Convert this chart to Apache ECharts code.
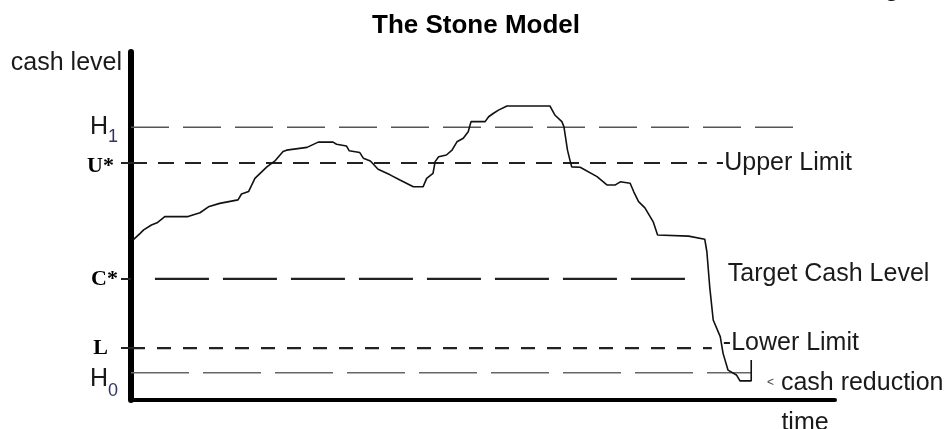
<!DOCTYPE html>
<html>
<head>
<meta charset="utf-8">
<title>The Stone Model</title>
<script src="https://cdn.jsdelivr.net/npm/echarts@6/dist/echarts.min.js"></script>
<style>
  html, body { margin: 0; padding: 0; background: #fff; }
  #main { width: 948px; height: 429px; }
</style>
</head>
<body>
<div id="main"></div>
<script>
// cash balance path (time and cash level both on a 0-100 scale)
var cashTime = [0.3, 1.3, 1.8, 2.9, 3.7, 4.8, 8.1, 9.8, 11.0, 12.6,
  15.2, 15.7, 16.7, 17.6, 19.3, 20.5, 21.6, 22.1, 25.0, 26.6,
  28.7, 29.2, 30.6, 31.0, 32.5, 33.0, 34.0, 35.1, 36.8, 38.2,
  40.1, 41.5, 42.0, 42.9, 43.2, 43.7, 44.8, 45.6, 46.3, 47.2,
  47.9, 48.3, 50.3, 50.8, 51.5, 52.2, 53.4, 59.5, 60.2, 61.2,
  61.5, 62.0, 62.4, 62.6, 63.8, 66.2, 67.6, 68.8, 69.5, 70.9,
  71.4, 72.1, 73.0, 74.2, 74.8, 79.2, 81.5, 81.8, 82.0, 82.2,
  82.7, 83.7, 84.1, 84.8, 86.0, 86.5, 88.1, 88.1];
var cashLevel = [46.0, 47.9, 48.9, 50.3, 50.9, 52.7, 52.7, 53.8, 55.5, 56.5,
  57.5, 59.2, 59.9, 63.7, 67.0, 68.8, 71.4, 71.8, 72.6, 74.1,
  74.1, 73.5, 73.0, 71.6, 71.1, 69.5, 68.7, 66.3, 64.7, 63.2,
  61.3, 61.3, 63.7, 65.1, 68.5, 69.9, 70.4, 71.8, 74.2, 75.2,
  77.1, 80.0, 80.0, 81.4, 82.4, 83.3, 84.5, 84.5, 81.9, 80.0,
  78.5, 71.8, 68.5, 67.0, 66.9, 64.2, 61.8, 61.8, 62.7, 62.3,
  59.9, 57.0, 55.2, 51.1, 47.4, 47.1, 46.2, 42.6, 42.2, 32.6,
  23.0, 18.2, 13.4, 8.6, 7.2, 5.5, 5.5, 11.5];

// control levels of the model
var levelNames = ['H1', 'U*', 'C*', 'L', 'H0'];
var levelValues = [78.4, 68.1, 34.8, 14.9, 7.8];
var levelStart = [0, 0, 3.4, 0, 0];
var levelEnd = [95.5, 81.8, 79.1, 82.5, 88.2];
var levelNotes = ['', '-Upper Limit', 'Target Cash Level', '-Lower Limit', 'cash reduction'];
var tickedLevels = [68.1, 34.8, 14.9];

var FONT = 'Liberation Sans';
var INK = '#1a1a1a';

// line look per level
var levelStyles = [
  { color: '#555', width: 1.5, dash: [38, 14] },
  { color: '#222', width: 2, dash: [16, 11], distance: 9, offset: [0, 0] },
  { color: '#222', width: 2.2, dash: [54, 14], distance: 40, offset: [0, -5] },
  { color: '#222', width: 2.2, dash: [14, 12], distance: 11, offset: [0, -5] },
  { color: '#666', width: 1.5, dash: [58, 14], distance: 15, offset: [0, 10] }
];

function levelLabel(name) {
  if (name === 'H1') return '{h1|H}{s1|1}';
  if (name === 'H0') return '{h0|H}{s0|0}';
  if (name === 'U*') return '{u|U*}';
  if (name === 'C*') return '{c|C*}';
  return '{l|' + name + '}';
}

var series = levelValues.map(function (v, i) {
  var st = levelStyles[i];
  var s = {
    type: 'line',
    data: [[levelStart[i], v], [levelEnd[i], v]],
    showSymbol: false,
    clip: false,
    silent: true,
    lineStyle: { color: st.color, width: st.width, type: st.dash }
  };
  if (levelNotes[i]) {
    s.endLabel = {
      show: true,
      distance: st.distance,
      offset: st.offset,
      color: INK,
      fontFamily: FONT,
      fontSize: 25,
      formatter: levelNotes[i] === 'cash reduction'
        ? '{a|<} ' + levelNotes[i]
        : levelNotes[i],
      rich: { a: { fontSize: 12, color: '#444', fontFamily: FONT } }
    };
  }
  return s;
});

series.push({
  type: 'line',
  data: cashTime.map(function (t, i) { return [t, cashLevel[i]]; }),
  showSymbol: false,
  clip: false,
  z: 5,
  lineStyle: { color: '#111', width: 1.6 }
});

var option = {
  animation: false,
  backgroundColor: '#fff',
  textStyle: { fontFamily: FONT },
  title: {
    text: 'The Stone Model',
    left: 367,
    top: 8,
    textStyle: { fontSize: 26, fontWeight: 'bold', color: '#000', fontFamily: FONT }
  },
  graphic: [{
    type: 'text',
    left: 884,
    top: -24,
    style: { text: 'g', font: 'bold 26px "Liberation Sans"', fill: '#000' }
  }],
  grid: { left: 131, right: 113, top: 52, bottom: 29, outerBoundsMode: 'none', containLabel: false },
  xAxis: {
    type: 'value',
    min: 0,
    max: 100,
    name: 'time',
    nameLocation: 'end',
    nameGap: -30,
    nameTextStyle: { fontSize: 25, color: INK, align: 'center', verticalAlign: 'top', padding: [11, 0, 0, 0] },
    axisLine: { lineStyle: { color: '#000', width: 4 } },
    axisTick: { show: false },
    axisLabel: { show: false },
    splitLine: { show: false }
  },
  yAxis: {
    type: 'value',
    min: 0,
    max: 100,
    name: 'cash level',
    nameLocation: 'end',
    nameGap: -11,
    nameTextStyle: { fontSize: 25, color: INK, align: 'right', verticalAlign: 'middle', padding: [0, 9, 0, 0] },
    axisLine: { show: true, lineStyle: { color: '#000', width: 6 } },
    axisTick: {
      show: true,
      customValues: tickedLevels,
      length: 10,
      lineStyle: { color: '#222', width: 2 }
    },
    axisLabel: {
      show: true,
      customValues: levelValues,
      margin: 13,
      formatter: function (val) {
        var best = 0;
        levelValues.forEach(function (lv, i) {
          if (Math.abs(lv - val) < Math.abs(levelValues[best] - val)) best = i;
        });
        return levelLabel(levelNames[best]);
      },
      rich: {
        h1: { fontSize: 25, color: INK, fontFamily: FONT },
        s1: { fontSize: 18, color: '#333366', fontFamily: FONT, padding: [20, 0, 0, 0] },
        h0: { fontSize: 25, color: INK, fontFamily: FONT, padding: [12, 0, 0, 0] },
        s0: { fontSize: 18, color: '#333366', fontFamily: FONT, padding: [37, 0, 0, 0] },
        u: { fontSize: 22, fontWeight: 'bold', color: '#000', fontFamily: 'Liberation Serif', padding: [7, 4, 0, 0] },
        c: { fontSize: 22, fontWeight: 'bold', color: '#000', fontFamily: 'Liberation Serif' },
        l: { fontSize: 22, fontWeight: 'bold', color: '#000', fontFamily: 'Liberation Serif', padding: [0, 10, 0, 0] }
      }
    },
    splitLine: { show: false }
  },
  series: series
};

var myChart = echarts.init(document.getElementById('main'));
myChart.setOption(option);
</script>
</body>
</html>
